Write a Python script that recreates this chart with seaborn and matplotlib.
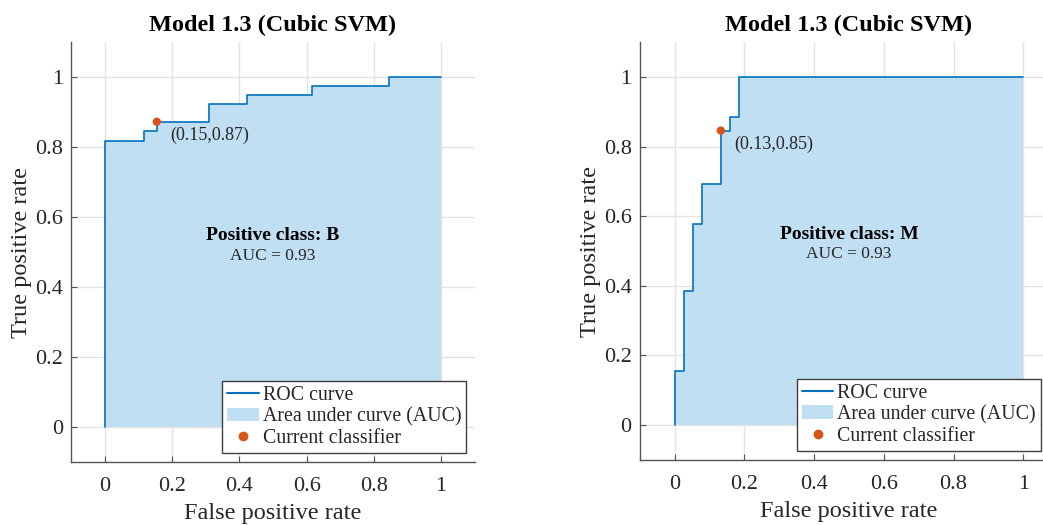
import numpy as np
import pandas as pd
import matplotlib.pyplot as plt
import seaborn as sns
from matplotlib.lines import Line2D
from matplotlib.patches import Patch

# ROC points (step curves)
b_fpr = [0.0, 0.0, 0.115, 0.154, 0.308, 0.423, 0.615, 0.846, 1.0]
b_tpr = [0.0, 0.818, 0.846, 0.872, 0.923, 0.949, 0.974, 1.0, 1.0]
m_fpr = [0.0, 0.0, 0.026, 0.053, 0.079, 0.132, 0.158, 0.184, 1.0]
m_tpr = [0.0, 0.154, 0.385, 0.577, 0.692, 0.846, 0.885, 1.0, 1.0]

# current classifier operating points
b_point = (0.154, 0.872)
m_point = (0.132, 0.846)
b_point_label = "(0.15,0.87)"
m_point_label = "(0.13,0.85)"

classes = ["B", "M"]
auc_values = [0.93, 0.93]
title = "Model 1.3 (Cubic SVM)"
ticks = [0, 0.2, 0.4, 0.6, 0.8, 1]

sns.set_theme(style="whitegrid")
plt.rcParams['font.family'] = ['Liberation Serif', 'DejaVu Serif']

line_col = '#0072BD'
fill_col = '#c0dff2'
dot_col = '#D95319'
axis_col = '#262626'

fig = plt.figure(figsize=(10.43, 5.25), dpi=100)
ax1 = fig.add_axes([0.0685, 0.12, 0.3866, 0.80])
ax2 = fig.add_axes([0.6136, 0.1242, 0.4008, 0.7954])

panels = [
    (ax1, b_fpr, b_tpr, b_point, b_point_label, classes[0], auc_values[0]),
    (ax2, m_fpr, m_tpr, m_point, m_point_label, classes[1], auc_values[1]),
]

for ax, fpr, tpr, pt, pt_label, cls, auc in panels:
    df = pd.DataFrame({'fpr': fpr, 'tpr': tpr})
    ax.fill_between(df['fpr'], df['tpr'], step='post', color=fill_col, linewidth=0, zorder=2)
    sns.lineplot(data=df, x='fpr', y='tpr', ax=ax, estimator=None, sort=False,
                 drawstyle='steps-post', color=line_col, linewidth=1.2, zorder=3)
    sns.scatterplot(x=[pt[0]], y=[pt[1]], ax=ax, color=dot_col, s=36,
                    edgecolor='none', zorder=4)
    ax.annotate(pt_label, xy=pt, xytext=(10, -10), textcoords='offset points',
                fontsize=13, color=axis_col, va='center', ha='left')

    ax.text(0.5, 0.548, f"Positive class: {cls}", ha='center', va='center',
            fontsize=14, fontweight='bold', color='black')
    ax.text(0.5, 0.49, f"AUC = {auc:.2f}", ha='center', va='center',
            fontsize=12.5, color=axis_col)

    ax.set_xlim(-0.1, 1.1)
    ax.set_ylim(-0.1, 1.1)
    ax.set_xticks(ticks)
    ax.set_yticks(ticks)
    ax.set_xticklabels([f"{t:g}" for t in ticks])
    ax.set_yticklabels([f"{t:g}" for t in ticks])
    ax.grid(True, color='#e3e3e3', linewidth=1)
    ax.set_facecolor('white')
    for side in ['top', 'right']:
        ax.spines[side].set_visible(False)
    for side in ['left', 'bottom']:
        ax.spines[side].set_visible(True)
        ax.spines[side].set_color('#555555')
        ax.spines[side].set_linewidth(1.0)
    ax.tick_params(axis='both', direction='in', length=4, width=0.8, color='#555555',
                   labelsize=16, labelcolor=axis_col, left=True, bottom=True)
    ax.tick_params(axis='x', pad=11)
    ax.tick_params(axis='y', pad=6)
    ax.set_xlabel("False positive rate", fontsize=17.5, color=axis_col, labelpad=5)
    ax.set_ylabel("True positive rate", fontsize=17.5, color=axis_col, labelpad=2)
    ax.set_title(title, fontsize=17.5, fontweight='bold', color='black', pad=8)

    handles = [
        Line2D([0], [0], color=line_col, linewidth=1.5),
        Patch(facecolor=fill_col, edgecolor='none'),
        Line2D([0], [0], color=dot_col, marker='o', linestyle='none', markersize=6),
    ]
    labels = ["ROC curve", "Area under curve (AUC)", "Current classifier"]
    x0 = 0.3735 if ax is ax1 else 0.375
    leg = ax.legend(handles, labels, loc='lower left', bbox_to_anchor=(x0, 0.022),
                    fontsize=14.3, frameon=True, fancybox=False, framealpha=1,
                    edgecolor='#404040', handlelength=1.6, handletextpad=0.2,
                    labelspacing=0.12, borderpad=0.25, borderaxespad=0)
    leg.get_frame().set_linewidth(1.0)
    for t in leg.get_texts():
        t.set_color(axis_col)
    leg.set_zorder(10)

fig.savefig("out.png", dpi=100, facecolor='white')
